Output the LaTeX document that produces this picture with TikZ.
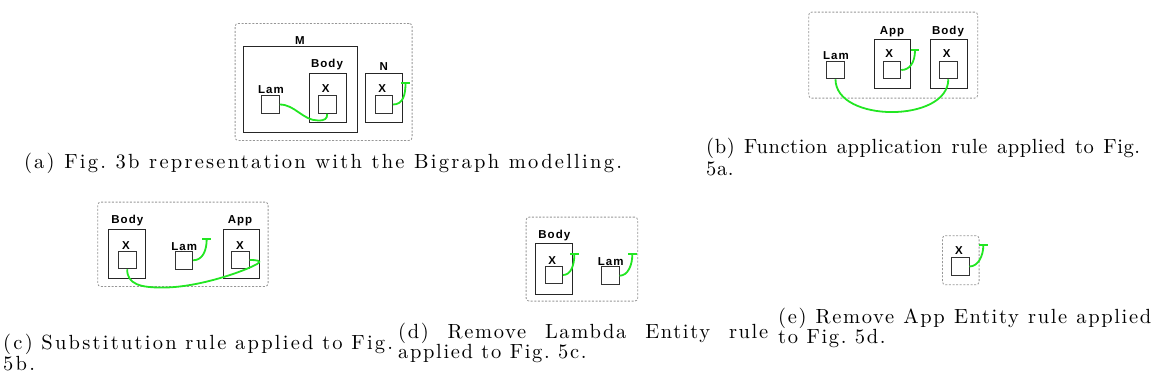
\documentclass[tikz,border=0pt]{standalone}
\usepackage{fontspec}
\newfontfamily\lblfamily{Liberation Sans}[LetterSpace=9]
\newfontfamily\capfamily{lmroman10-regular}[Extension=.otf, LetterSpace=8]
\newfontfamily\capfamilywide{lmroman10-regular}[Extension=.otf, LetterSpace=11]
\newfontfamily\capfamilynarrow{lmroman10-regular}[Extension=.otf, LetterSpace=3]
\usetikzlibrary{arrows.meta}
\definecolor{linkgreen}{RGB}{34,230,34}
\definecolor{boxgray}{RGB}{150,150,150}
\newcommand\capsize[1]{\fontsize{20.5}{#1}\selectfont}
\begin{document}
\begin{tikzpicture}[x=1pt,y=-1pt,
  outerbox/.style={draw=boxgray, line width=0.8pt, dash pattern=on 2pt off 1.6pt, rounded corners=3pt, anchor=north west, inner sep=0pt},
  ctrl/.style={draw=black!85, line width=1.1pt, anchor=north west, inner sep=0pt},
  port/.style={draw=black!80, line width=0.9pt, minimum size=17.6pt, inner sep=0pt},
  lbl/.style={font=\lblfamily\bfseries\fontsize{11.5}{12}\selectfont, inner sep=0pt, anchor=base},
  link/.style={draw=linkgreen, line width=1.8pt},
  openend/.style={link, -{Bar[width=8.6pt]}},
  capt/.style={inner sep=0pt, anchor=base west}]
\useasboundingbox (0,0) rectangle (1154,386);

% ---------- (a)
\node[outerbox, minimum width=177, minimum height=117] (A) at (234.7,23) {};
\node[ctrl, minimum width=113.4, minimum height=86.3] (aM) at (243.3,46) {};
\node[lbl] (aML) at (300,44.2) {M};
\node[ctrl, minimum width=37, minimum height=49.6] (aBody) at (308.7,72.7) {};
\node[lbl] (aBodyL) at (327,67.5) {Body};
\node[lbl] (aBXL) at (325.7,92.5) {X};
\node[port] (aBX) at (327.2,104.5) {};
\node[lbl] (aLamL) at (271,93.5) {Lam};
\node[port] (aLam) at (270.5,104.5) {};
\node[ctrl, minimum width=36.7, minimum height=49.3] (aN) at (365.3,73) {};
\node[lbl] (aNL) at (383.7,70.9) {N};
\node[lbl] (aNXL) at (382.3,92.5) {X};
\node[port] (aNX) at (383.8,104.5) {};
\coordinate (aLow) at (318,120.5);
\coordinate (tA) at (405.5,82);
\draw[link] (aLam.east) .. controls (295,104.5) and (303,120.5) .. (aLow)
  .. controls (325,120.5) and (327.2,119) .. (aBX.south);
\draw[openend] (aNX.east) .. controls (403,104.5) and (405.5,95) .. (tA);

% ---------- (b)
\node[outerbox, minimum width=169, minimum height=86] (B) at (808.3,11.7) {};
\node[lbl] (bLamL) at (836,59.2) {Lam};
\node[port] (bLam) at (835.5,70) {};
\node[ctrl, minimum width=36.6, minimum height=49.6] (bApp) at (873.7,38.7) {};
\node[lbl] (bAppL) at (892,34.9) {App};
\node[lbl] (bAXL) at (889.3,57.5) {X};
\node[port] (bAX) at (892,70) {};
\coordinate (tB) at (915,49);
\draw[openend] (bAX.east) .. controls (910,70) and (915,62) .. (tB);
\node[ctrl, minimum width=37, minimum height=49.6] (bBody) at (930,38.7) {};
\node[lbl] (bBodyL) at (948,34.9) {Body};
\node[lbl] (bBXL) at (946.7,57.5) {X};
\node[port] (bBX) at (948.3,70) {};
\draw[link] (bLam.south) .. controls (835.5,123) and (948.3,123) .. (bBX.south);

% ---------- (c)
\node[outerbox, minimum width=170.4, minimum height=84.3] (C) at (97.3,201.7) {};
\node[ctrl, minimum width=36.7, minimum height=48.4] (cBody) at (108.3,229.3) {};
\node[lbl] (cBodyL) at (127.3,223.9) {Body};
\node[lbl] (cBXL) at (126,249.2) {X};
\node[port] (cBX) at (127.2,260) {};
\node[lbl] (cLamL) at (184.3,250.2) {Lam};
\node[port] (cLam) at (183.8,260.3) {};
\coordinate (tC) at (206.7,237.7);
\draw[openend] (cLam.east) .. controls (203,260.3) and (206.7,250) .. (tC);
\node[ctrl, minimum width=36.3, minimum height=48.4] (cApp) at (222.7,229.3) {};
\node[lbl] (cAppL) at (240,223.9) {App};
\node[lbl] (cAXL) at (240,249.2) {X};
\node[port] (cAX) at (240.3,260) {};
\coordinate (cLow) at (165,287.5);
\coordinate (cTurn) at (257,264);
\draw[link] (cBX.south) .. controls (127,284) and (140,288) .. (cLow)
  .. controls (200,287) and (245,271) .. (cTurn)
  .. controls (263,260.5) and (256,260) .. (cAX.east);

% ---------- (d)
\node[outerbox, minimum width=111.6, minimum height=84] (D) at (525.7,216.7) {};
\node[ctrl, minimum width=36.4, minimum height=50.7] (dBody) at (535.3,243.3) {};
\node[lbl] (dBodyL) at (554.3,238.5) {Body};
\node[lbl] (dBXL) at (552.3,264.2) {X};
\node[port] (dBX) at (553.8,275) {};
\coordinate (tD1) at (574.3,253.3);
\draw[openend] (dBX.east) .. controls (571,275) and (574.3,265) .. (tD1);
\node[lbl] (dLamL) at (610.7,265.2) {Lam};
\node[port] (dLam) at (610.3,275.7) {};
\coordinate (tD2) at (632.3,253.3);
\draw[openend] (dLam.east) .. controls (628,275.7) and (632.3,265) .. (tD2);

% ---------- (e)
\node[outerbox, minimum width=36.7, minimum height=49] (E) at (942,235.3) {};
\node[lbl] (eXL) at (959,254.9) {X};
\node[port] (eX) at (960.2,266.5) {};
\coordinate (tE) at (983.3,244.3);
\draw[openend] (eX.east) .. controls (978,266.5) and (983.3,256) .. (tE);

% ---------- captions
\node[capt, anchor=base] (capA) at (323,168) {\capfamilywide\capsize{22}\makebox[598pt][s]{(a) Fig.\ 3b representation with the Bigraph modelling.}};
\node[capt] (capB) at (706,153) {\parbox[t]{434pt}{\capfamilynarrow\capsize{22}\makebox[434pt][s]{(b) Function application rule applied to Fig.}\\5a.}};
\node[capt] (capC) at (3,349) {\parbox[t]{390pt}{\capfamilywide\capsize{21}\makebox[390pt][s]{(c) Substitution rule applied to Fig.}\\5b.}};
\node[capt] (capD) at (398,338) {\parbox[t]{370pt}{\capfamily\capsize{18.5}\makebox[370pt][s]{(d) Remove Lambda Entity rule}\\applied to Fig.\ 5c.}};
\node[capt] (capE) at (778,323) {\parbox[t]{373pt}{\capfamily\capsize{18.5}\makebox[373pt][s]{(e) Remove App Entity rule applied}\\to Fig.\ 5d.}};
\end{tikzpicture}
\end{document}
